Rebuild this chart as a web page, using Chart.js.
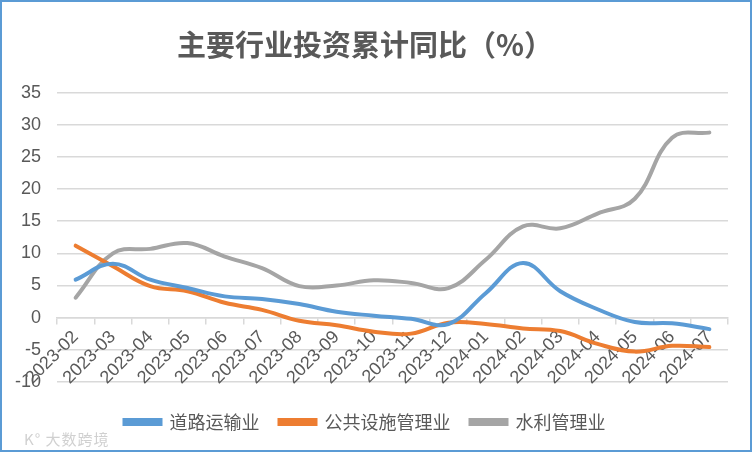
<!DOCTYPE html>
<html>
<head>
<meta charset="utf-8">
<script src="https://cdn.jsdelivr.net/npm/chart.js@4"></script>
<style>
  html, body { margin:0; padding:0; background:#fff; }
  #wrap { position:relative; width:752px; height:452px; box-sizing:border-box; border:2px solid #5B9BD5; background:#fff; }
  #wm { position:absolute; left:22px; top:426px; font:15px "Noto Sans CJK SC", sans-serif; color:rgba(170,170,170,0.55); letter-spacing:1px; }
</style>
</head>
<body>
<div id="wrap">
  <canvas id="c" width="748" height="448"></canvas>
  <div id="wm">K° 大数跨境</div>
</div>
<script>
/* 主要行业投资累计同比 — three smoothed lines */

const months = ['2023-02','2023-03','2023-04','2023-05','2023-06','2023-07','2023-08','2023-09','2023-10',
  '2023-11','2023-12','2024-01','2024-02','2024-03','2024-04','2024-05','2024-06','2024-07'];

const road  = [5.9, 8.4, 5.9, 4.6, 3.3, 2.9, 2.1, 0.9, 0.3, -0.2, -1.0, 3.8, 8.5, 4.1, 1.3, -0.7, -0.9, -1.8];
const pub   = [11.2, 8.0, 4.9, 4.1, 2.3, 1.2, -0.5, -1.2, -2.2, -2.5, -0.8, -1.0, -1.7, -2.1, -4.1, -5.3, -4.4, -4.6];
const water = [3.1, 10.0, 10.7, 11.6, 9.5, 7.7, 4.9, 5.0, 5.8, 5.4, 4.6, 9.0, 14.2, 13.9, 16.2, 18.5, 28.0, 28.8];

const names  = ['道路运输业', '公共设施管理业', '水利管理业'];
const colors = ['#5B9BD5', '#ED7D31', '#A5A5A5'];

const txt = '#595959';
const gridCol = '#D9D9D9';
const numFont = '"Liberation Sans", Arial, sans-serif';
const cjkFont = '"Noto Sans CJK SC", "Microsoft YaHei", sans-serif';

const mk = (label, data, col) => ({
  label, data,
  borderColor: col, backgroundColor: col,
  borderWidth: 4, pointRadius: 0, tension: 0.4,
  borderCapStyle: 'round', fill: false
});

new Chart(document.getElementById('c'), {
  type: 'line',
  data: {
    labels: months,
    datasets: [mk(names[0], road, colors[0]), mk(names[1], pub, colors[1]), mk(names[2], water, colors[2])]
  },
  options: {
    responsive: false,
    animation: false,
    layout: { padding: { left: 0, right: 22, top: 0, bottom: 9 } },
    plugins: {
      title: {
        display: true,
        text: '主要行业投资累计同比（%）',
        color: txt,
        font: { family: cjkFont, size: 29, weight: 'bold' },
        padding: { top: 26, bottom: 30 }
      },
      legend: {
        position: 'bottom',
        // empty legend title only used as a spacer above the items
        title: { display: true, text: ' ', font: { size: 1 }, padding: { top: 0, bottom: 10 } },
        labels: {
          color: txt,
          font: { family: cjkFont, size: 18 },
          boxWidth: 36, boxHeight: 4,
          padding: 20
        }
      },
      tooltip: { enabled: false }
    },
    scales: {
      x: {
        position: { y: 0 },
        offset: true,
        grid: { offset: true, drawOnChartArea: false, drawTicks: true, tickLength: 6, color: gridCol, lineWidth: 1.5 },
        border: { display: true, color: gridCol, width: 1.5 },
        ticks: {
          color: txt, font: { family: numFont, size: 18 },
          autoSkip: false, maxRotation: 45, minRotation: 45, padding: 3
        }
      },
      y: {
        min: -10, max: 35,
        afterFit: s => { s.width = 55; },
        grid: { color: gridCol, lineWidth: 1.5, drawTicks: false },
        border: { display: false },
        ticks: { stepSize: 5, color: txt, font: { family: numFont, size: 18 }, padding: 16 }
      }
    }
  }
});
</script>
</body>
</html>
